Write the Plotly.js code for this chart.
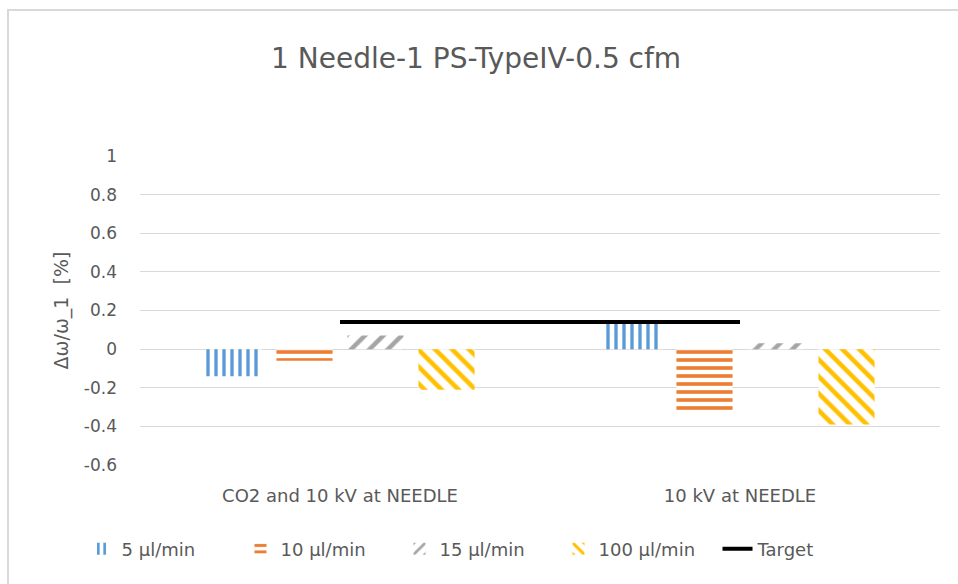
<!DOCTYPE html>
<html>
<head>
<meta charset="utf-8">
<script src="https://cdn.plot.ly/plotly-3.0.1.min.js"></script>
<style>
  html, body { margin: 0; padding: 0; background: #ffffff; }
  #wrap { position: relative; width: 958px; height: 584px; }
  #chart { width: 958px; height: 584px; }
  #frame {
    position: absolute; left: 7px; top: 9px; right: -4px; bottom: -4px;
    border-left: 2px solid #d9d9d9; border-top: 2px solid #d9d9d9;
    pointer-events: none;
  }
</style>
</head>
<body>
<div id="wrap">
  <div id="chart"></div>
  <div id="frame"></div>
</div>
<script>
// Measurement conditions (category axis)
const categories = ["CO2 and 10 kV at NEEDLE", "10 kV at NEEDLE"];

// Relative frequency shift Δω/ω_1 [%] per flow rate
const flow5   = [-0.14, 0.14];
const flow10  = [-0.06, -0.33];
const flow15  = [0.07, 0.03];
const flow100 = [-0.21, -0.39];
const target  = [0.14, 0.14];

const seriesNames = ["5 µl/min", "10 µl/min", "15 µl/min", "100 µl/min", "Target"];

// Value axis ticks (plain hyphen for negatives)
const yTickVals = [-0.6, -0.4, -0.2, 0, 0.2, 0.4, 0.6, 0.8, 1];
const yTickText = ["-0.6", "-0.4", "-0.2", "0", "0.2", "0.4", "0.6", "0.8", "1"];

const textColor = "#595959";
const font = "DejaVu Sans, Verdana, sans-serif";

function patternBar(name, values, color, shape, size, solidity) {
  return {
    type: "bar",
    name: name,
    x: categories,
    y: values,
    marker: {
      color: color,
      line: { width: 0 },
      pattern: { shape: shape, fgcolor: color, bgcolor: "#ffffff", size: size, solidity: solidity, fillmode: "replace" }
    },
    hoverinfo: "x+y+name"
  };
}

const data = [
  patternBar(seriesNames[0], flow5,   "#5B9BD5", "|",  8,  0.42),
  patternBar(seriesNames[1], flow10,  "#ED7D31", "-",  8,  0.45),
  patternBar(seriesNames[2], flow15,  "#A5A5A5", "/",  13, 0.35),
  patternBar(seriesNames[3], flow100, "#FFC000", "\\", 12, 0.38),
  {
    type: "scatter",
    mode: "lines",
    name: seriesNames[4],
    x: categories,
    y: target,
    line: { color: "#000000", width: 4 }
  }
];

const layout = {
  width: 958,
  height: 584,
  paper_bgcolor: "#ffffff",
  plot_bgcolor: "#ffffff",
  margin: { l: 140, r: 18, t: 156, b: 119 },
  font: { family: font, color: textColor, size: 17 },
  title: {
    text: "1 Needle-1 PS-TypeIV-0.5 cfm",
    font: { family: font, size: 28, color: textColor },
    xref: "container", x: 0.497, xanchor: "center",
    yref: "container", y: 0.90, yanchor: "middle"
  },
  barmode: "group",
  bargap: 0.29,
  bargroupgap: 0.21,
  xaxis: {
    type: "category",
    showgrid: false,
    zeroline: false,
    showline: false,
    ticks: "",
    tickfont: { family: font, size: 18, color: textColor },
    ticklabelstandoff: 18
  },
  yaxis: {
    range: [-0.6, 1],
    tickmode: "array",
    tickvals: yTickVals,
    ticktext: yTickText,
    showgrid: true,
    gridcolor: "#d9d9d9",
    gridwidth: 1,
    zeroline: true,
    zerolinecolor: "#d9d9d9",
    zerolinewidth: 1,
    showline: false,
    ticks: "",
    tickfont: { family: font, size: 17, color: textColor },
    ticklabelstandoff: 22,
    title: {
      text: "Δω/ω_1  [%]",
      font: { family: font, size: 19, color: textColor },
      standoff: 10
    }
  },
  legend: {
    orientation: "h",
    xref: "container", x: 0.5, xanchor: "center",
    yref: "container", y: 0.06, yanchor: "middle",
    font: { family: font, size: 18, color: textColor },
    traceorder: "normal",
    itemwidth: 30,
    entrywidth: 114
  },
  showlegend: true
};

Plotly.newPlot("chart", data, layout, { displayModeBar: false, staticPlot: true });
</script>
</body>
</html>
